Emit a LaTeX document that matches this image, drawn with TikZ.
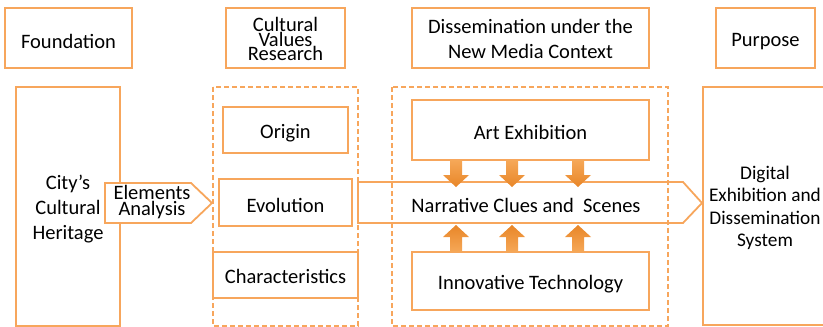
\documentclass[tikz,border=0pt]{standalone}
\usepackage{fontspec}
\setmainfont{Carlito}
\begin{document}
\definecolor{boxline}{RGB}{247,166,92}
\definecolor{arrowtop}{RGB}{246,168,88}
\definecolor{arrowbot}{RGB}{232,134,40}
\tikzset{
  every node/.style={font=\fontsize{20.5}{25}\selectfont, text=black, align=center},
  frame/.style={draw=boxline, line width=1.8pt},
  group/.style={draw=boxline, line width=1.6pt, dash pattern=on 5pt off 3pt},
  fatarrow/.style={draw=none, top color=arrowtop, bottom color=arrowbot},
  fatarrowup/.style={draw=none, top color=arrowbot, bottom color=arrowtop},
}
\begin{tikzpicture}[x=1pt,y=-1pt]
\useasboundingbox (0,0) rectangle (823,327);
\begin{scope}
\clip (0,0) rectangle (823,327);

% column headers
\draw[frame] (5,8) rectangle (132,68);
\node (foundation) at (68.5,41) {Foundation};
\draw[frame] (226,8) rectangle (345,68);
\node[font=\fontsize{20.5}{14.5}\selectfont] (cvr) at (285.5,39) {Cultural\\Values\\Research};
\draw[frame] (412,8) rectangle (649,68);
\node (dnm) at (530.5,39) {Dissemination under the\\New Media Context};
\draw[frame] (716,8) rectangle (815,68);
\node (purpose) at (765.5,42) {Purpose};

% foundation column
\draw[frame] (16,87) rectangle (120,326);
\node (heritage) at (68,209) {City’s\\Cultural\\Heritage};

% elements analysis arrow
\draw[frame, fill=white] (105,183) -- (191,183) -- (212,203) -- (191,223) -- (105,223) -- cycle;
\node[font=\fontsize{20.5}{13.5}\selectfont] (elements) at (152,202) {Elements\\Analysis};

% cultural values group
\draw[group] (213,87) rectangle (358,326);
\draw[frame] (223,107) rectangle (348,153);
\node (origin) at (285.5,133) {Origin};
\draw[frame] (219,179) rectangle (352,226);
\node (evolution) at (285.5,205) {Evolution};
\draw[frame] (213,252) rectangle (358,298);
\node (characteristics) at (285.5,276) {Characteristics};

% dissemination group
\draw[group] (392,87) rectangle (668,326);
\draw[frame] (412,100) rectangle (649,160);
\node (art) at (530.5,132) {Art Exhibition};
\draw[frame] (412,252) rectangle (649,310);
\node (tech) at (530.5,284) {Innovative Technology};

% narrative arrow
\draw[frame] (358,182) -- (683,182) -- (702,203) -- (683,223) -- (358,223) -- cycle;
\node (narrative) at (526,205) {Narrative Clues and\ \ Scenes};

% influence arrows
\foreach \cx in {456,512,578}{
  \path[fatarrow] (\cx-6,160) -- (\cx+6,160) -- (\cx+6,175) -- (\cx+13,175)
        -- (\cx,187) -- (\cx-13,175) -- (\cx-6,175) -- cycle;
  \path[fatarrowup] (\cx-6,252) -- (\cx+6,252) -- (\cx+6,237) -- (\cx+13,237)
        -- (\cx,225) -- (\cx-13,237) -- (\cx-6,237) -- cycle;
}

% purpose column
\draw[frame] (703,87) -- (703,325) -- (840,325) -- (840,87) -- cycle;
\node[font=\fontsize{19.3}{22.5}\selectfont] (system) at (765,208) {Digital\\Exhibition and\\Dissemination\\System};
\end{scope}
\end{tikzpicture}
\end{document}
